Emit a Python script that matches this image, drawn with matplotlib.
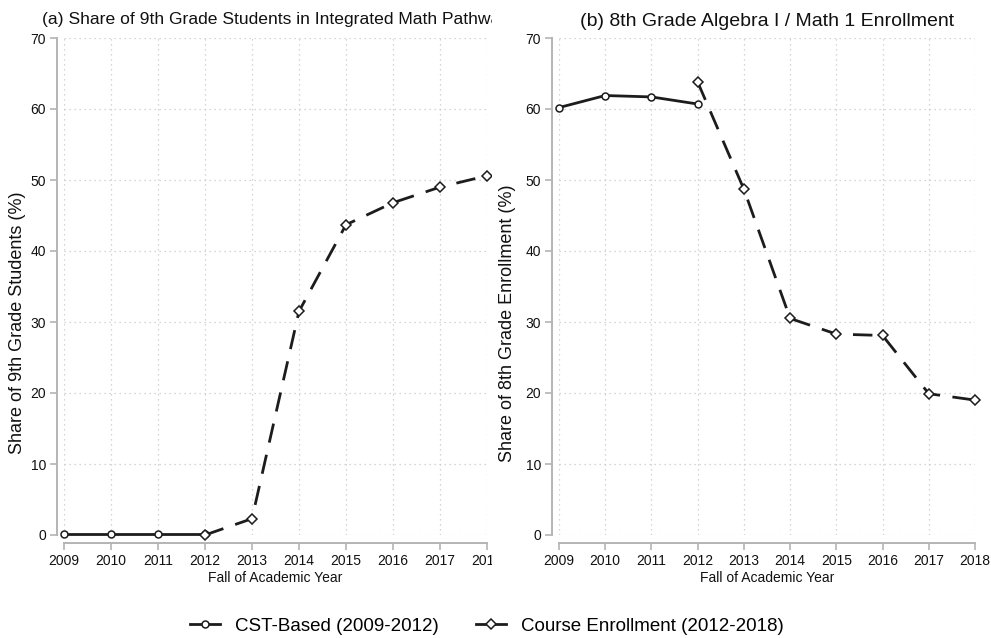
import matplotlib
matplotlib.use("Agg")
import matplotlib.pyplot as plt
from matplotlib.lines import Line2D

plt.rcParams['font.family'] = ['Liberation Sans', 'DejaVu Sans']

# Panel (a): integrated math pathway share among 9th graders
years_cst = [2009, 2010, 2011, 2012]
years_course = [2012, 2013, 2014, 2015, 2016, 2017, 2018]
integ_cst = [0.2, 0.2, 0.2, 0.2]
integ_course = [0.0, 2.3, 31.5, 43.7, 46.8, 49.0, 50.6]

# Panel (b): 8th grade Algebra I / Math 1 enrollment
alg_cst = [60.2, 61.9, 61.7, 60.7]
alg_course = [63.8, 48.7, 30.5, 28.3, 28.1, 19.9, 19.0]

xticks = list(range(2009, 2019))
yticks = list(range(0, 80, 10))

W, H = 991, 638
fig = plt.figure(figsize=(W / 100, H / 100), dpi=100)
fig.patch.set_facecolor('white')

ink = '#1c1c1c'
axis_gray = '#b4b4b4'
marker_kw = dict(ms=5, mfc='white', mec=ink, mew=1.1)


def style(ax, ylabel, label_x):
    ax.set_xlim(2009, 2018)
    ax.set_ylim(0, 70)
    ax.set_xticks(xticks)
    ax.set_yticks(yticks)
    for s in ['top', 'right']:
        ax.spines[s].set_visible(False)
    ax.spines['left'].set_position(('outward', 5))
    ax.spines['bottom'].set_position(('outward', 6))
    ax.spines['left'].set_bounds(0, 70)
    ax.spines['bottom'].set_bounds(2009, 2018)
    for s in ['left', 'bottom']:
        ax.spines[s].set_color(axis_gray)
        ax.spines[s].set_linewidth(1.4)
    ax.tick_params(colors=axis_gray, labelcolor='#111111', labelsize=10,
                   length=5, width=1.2, pad=3)
    ax.grid(True, color='#c8c8c8', linestyle=(0, (1, 3)), linewidth=0.9)
    ax.set_axisbelow(True)
    ax.set_ylabel(ylabel, fontsize=13, color='#111111', va='center')
    ax.yaxis.set_label_coords(label_x, (535 - 323) / 497)
    ax.set_xlabel('Fall of Academic Year', fontsize=10, color='#111111', va='center')
    ax.xaxis.set_label_coords(0.5, -(578 - 535) / 497)


def draw(ax, cst, course):
    ax.plot(years_cst, cst, color=ink, lw=2, marker='o', clip_on=False,
            zorder=3, **marker_kw)
    ax.plot(years_course, course, color=ink, lw=2, dashes=(7, 4.5),
            marker='D', clip_on=False, zorder=3, **marker_kw)


ax1 = fig.add_axes([64 / W, 1 - 535 / H, (487 - 64) / W, (535 - 38) / H], zorder=1)
draw(ax1, integ_cst, integ_course)
style(ax1, 'Share of 9th Grade Students (%)', -(64 - 18) / 423)
ax1.set_title('(a) Share of 9th Grade Students in Integrated Math Pathways',
              loc='left', x=(42 - 64) / 423, fontsize=12.6, pad=10, color='#111111')

# white panel behind (b) that hides the overflow of (a)
cover = fig.add_axes([492 / W, 1 - 605 / H, 1 - 492 / W, 605 / H], zorder=2)
cover.set_facecolor('white')
cover.set_xticks([])
cover.set_yticks([])
for s in cover.spines.values():
    s.set_visible(False)

ax2 = fig.add_axes([559 / W, 1 - 535 / H, (975 - 559) / W, (535 - 38) / H], zorder=3)
ax2.patch.set_alpha(0)
draw(ax2, alg_cst, alg_course)
style(ax2, 'Share of 8th Grade Enrollment (%)', -(559 - 508) / 416)
ax2.set_title('(b) 8th Grade Algebra I / Math 1 Enrollment',
              fontsize=14, pad=9, color='#111111')

handles = [
    Line2D([], [], color=ink, lw=2, marker='o', **marker_kw),
    Line2D([], [], color=ink, lw=2, marker='D', **marker_kw),
]
fig.legend(handles, ['CST-Based (2009-2012)', 'Course Enrollment (2012-2018)'],
           loc='center', bbox_to_anchor=(487 / W, 1 - 626 / H), ncol=2,
           frameon=False, fontsize=13.5, handlelength=1.6, columnspacing=2.0,
           handletextpad=0.8, borderpad=0)

fig.savefig('out.png', dpi=100)
